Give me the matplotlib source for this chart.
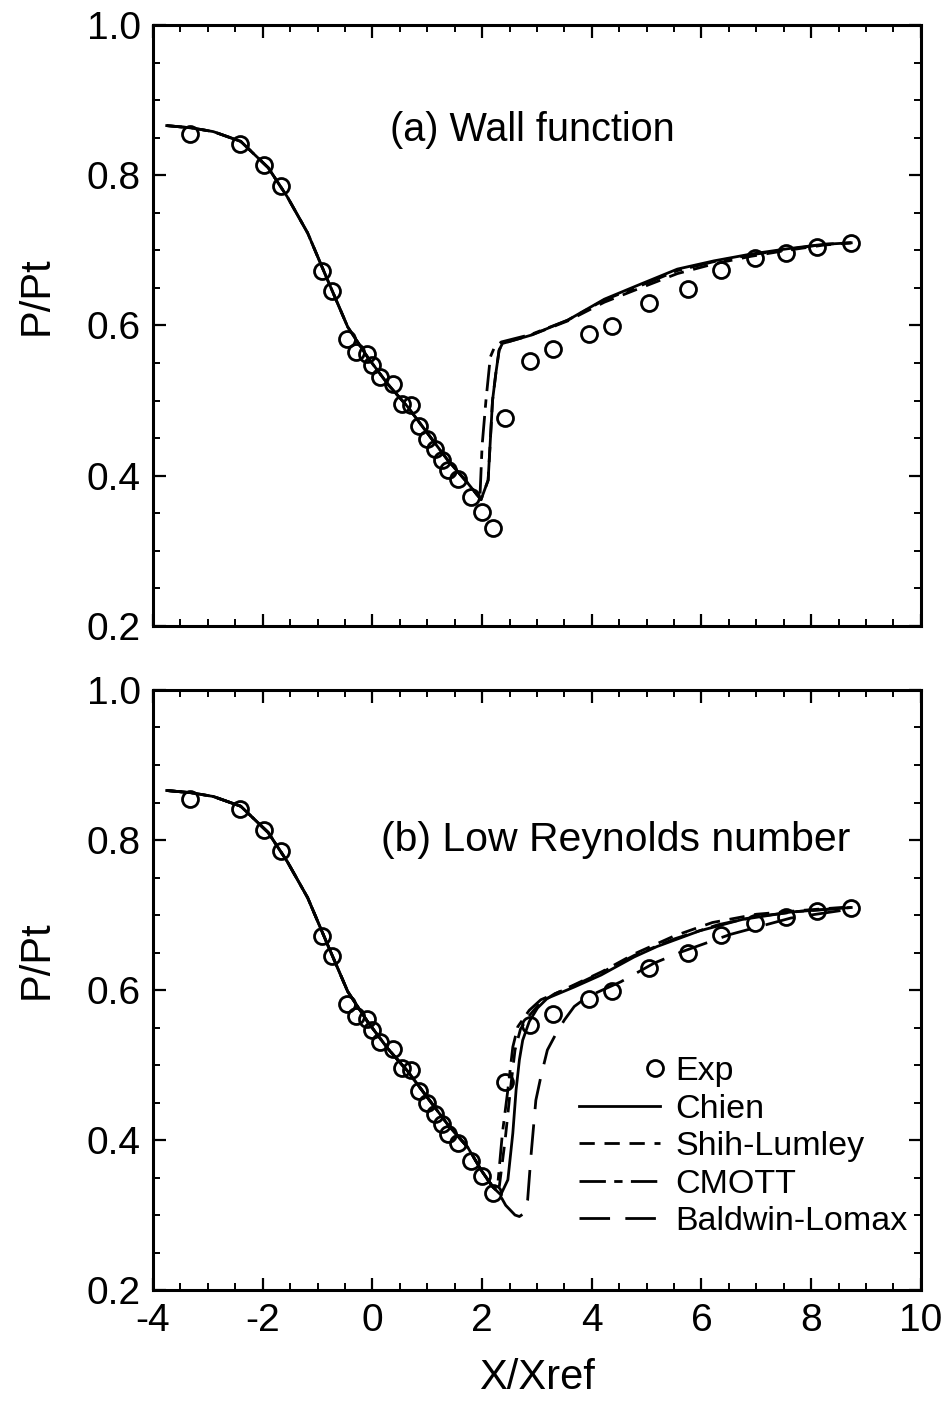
import matplotlib
matplotlib.use('Agg')
import matplotlib.pyplot as plt
from matplotlib.legend_handler import HandlerLine2D
from matplotlib.ticker import MultipleLocator, FormatStrFormatter
import numpy as np

plt.rcParams['font.family'] = ['Liberation Sans', 'DejaVu Sans']
plt.rcParams['lines.scale_dashes'] = False
plt.rcParams['axes.unicode_minus'] = False

# experimental points (same data in both panels)
exp_x = [-3.32, -2.42, -1.98, -1.66, -0.91, -0.74, -0.46, -0.30, -0.10, -0.01,
         0.14, 0.38, 0.54, 0.70, 0.85, 1.00, 1.15, 1.27, 1.38, 1.56,
         1.79, 2.00, 2.19, 2.42, 2.87, 3.29, 3.95, 4.37, 5.05, 5.75,
         6.35, 6.97, 7.54, 8.10, 8.73]
exp_y = [0.855, 0.842, 0.814, 0.785, 0.672, 0.646, 0.582, 0.565, 0.562, 0.547,
         0.531, 0.522, 0.496, 0.494, 0.466, 0.449, 0.435, 0.421, 0.408, 0.396,
         0.372, 0.352, 0.330, 0.477, 0.553, 0.568, 0.588, 0.599, 0.630, 0.649,
         0.674, 0.690, 0.697, 0.705, 0.710]

# upstream part, common to all models
x_up = [-3.75, -3.3, -2.9, -2.4, -1.9, -1.55, -1.18, -0.82, -0.45, -0.09,
        0.28, 0.64, 1.01, 1.37, 1.74]
y_up = [0.866, 0.863, 0.858, 0.845, 0.810, 0.771, 0.723, 0.661, 0.598, 0.558,
        0.522, 0.492, 0.456, 0.421, 0.390]

# (a) wall function
chien_a_x = [1.98, 2.11, 2.19, 2.25, 2.31, 2.37, 2.89, 3.56, 4.23, 4.89, 5.56, 6.23, 6.90, 7.56, 8.23, 8.73]
chien_a_y = [0.368, 0.394, 0.500, 0.536, 0.567, 0.576, 0.587, 0.607, 0.635, 0.655, 0.675, 0.686, 0.695, 0.702, 0.708, 0.710]
shih_a_x = [1.98, 2.11, 2.19, 2.25, 2.31, 2.37, 2.89, 3.56, 4.23, 4.89, 5.56, 6.23, 6.90, 7.56, 8.23, 8.73]
shih_a_y = [0.368, 0.394, 0.500, 0.536, 0.567, 0.576, 0.587, 0.606, 0.631, 0.650, 0.669, 0.682, 0.692, 0.700, 0.707, 0.710]
cmott_a_x = [1.96, 2.00, 2.07, 2.15, 2.22, 2.35, 2.89, 3.56, 4.23, 4.89, 5.56, 6.23, 6.90, 7.56, 8.23, 8.73]
cmott_a_y = [0.370, 0.440, 0.500, 0.558, 0.570, 0.578, 0.588, 0.607, 0.634, 0.653, 0.673, 0.685, 0.694, 0.701, 0.708, 0.710]

# (b) low Reynolds number
chien_b_x = [2.0, 2.2, 2.34, 2.47, 2.56, 2.62, 2.68, 2.74, 2.86, 3.01, 3.19, 3.68, 4.17, 4.77, 5.19, 5.97, 6.74, 7.63, 8.73]
chien_b_y = [0.358, 0.337, 0.327, 0.347, 0.409, 0.467, 0.507, 0.533, 0.558, 0.576, 0.589, 0.604, 0.620, 0.644, 0.658, 0.679, 0.694, 0.704, 0.710]
shih_b_x = [2.0, 2.2, 2.30, 2.42, 2.52, 2.60, 2.70, 2.86, 3.05, 3.30, 3.68, 4.20, 4.80, 5.50, 6.20, 7.00, 7.80, 8.73]
shih_b_y = [0.358, 0.337, 0.330, 0.400, 0.470, 0.520, 0.548, 0.566, 0.582, 0.594, 0.607, 0.625, 0.649, 0.672, 0.690, 0.701, 0.706, 0.711]
cmott_b_x = [2.0, 2.2, 2.28, 2.37, 2.47, 2.56, 2.65, 2.86, 3.07, 3.68, 4.17, 4.77, 5.50, 6.30, 7.00, 7.80, 8.73]
cmott_b_y = [0.358, 0.337, 0.336, 0.409, 0.467, 0.524, 0.551, 0.573, 0.587, 0.606, 0.623, 0.646, 0.668, 0.687, 0.698, 0.705, 0.710]
bl_b_x = [2.0, 2.2, 2.30, 2.43, 2.60, 2.68, 2.76, 2.83, 2.89, 2.98, 3.07, 3.19, 3.35, 3.50, 3.68, 3.92, 4.53, 5.14, 5.64, 6.52, 7.63, 8.73]
bl_b_y = [0.358, 0.337, 0.330, 0.313, 0.300, 0.298, 0.302, 0.320, 0.378, 0.453, 0.484, 0.520, 0.542, 0.560, 0.578, 0.591, 0.611, 0.636, 0.651, 0.674, 0.696, 0.708]

labels = ['Exp', 'Chien', 'Shih-Lumley', 'CMOTT', 'Baldwin-Lomax']
styles = {'Chien': '-', 'Shih-Lumley': (0, (11, 7)),
          'CMOTT': (0, (19, 6, 6, 6)), 'Baldwin-Lomax': (0, (22, 11))}


class RightMarkerHandler(HandlerLine2D):
    # single marker sits at the right end of the handle, next to the text
    def get_xdata(self, legend, xdescent, ydescent, width, height, fontsize):
        right = -xdescent + width
        xd = np.array([right - 10, right + 2])
        return xd, xd


def setup_axis(ax, show_xlabels):
    ax.set_xlim(-4, 10)
    ax.set_ylim(0.2, 1.0)
    ax.xaxis.set_major_locator(MultipleLocator(2))
    ax.xaxis.set_minor_locator(MultipleLocator(0.5))
    ax.yaxis.set_major_locator(MultipleLocator(0.2))
    ax.yaxis.set_minor_locator(MultipleLocator(0.05))
    ax.yaxis.set_major_formatter(FormatStrFormatter('%.1f'))
    ax.tick_params(which='both', direction='in', top=True, right=True,
                   labelsize=28, pad=9)
    ax.tick_params(which='major', length=9, width=1.6)
    ax.tick_params(which='minor', length=5, width=1.4)
    ax.tick_params(axis='x', labelbottom=show_xlabels)
    for sp in ax.spines.values():
        sp.set_linewidth(2.2)
    ax.set_ylabel('P/Pt', fontsize=30)
    ax.yaxis.set_label_coords(-0.125, 0.55)


def model_line(ax, xs, ys, name):
    return ax.plot(np.concatenate([x_up, xs]), np.concatenate([y_up, ys]),
                   color='black', lw=2.0, linestyle=styles[name], label=name)[0]


fig = plt.figure(figsize=(9.48, 14.01), dpi=100)
ax1 = fig.add_axes([0.1614, 0.5532, 0.810, 0.429])
ax2 = fig.add_axes([0.1614, 0.0792, 0.810, 0.4283])

# panel (a)
model_line(ax1, shih_a_x, shih_a_y, 'Shih-Lumley')
model_line(ax1, cmott_a_x, cmott_a_y, 'CMOTT')
model_line(ax1, chien_a_x, chien_a_y, 'Chien')
ax1.plot(exp_x, exp_y, 'o', mfc='none', mec='black', ms=11.5, mew=2.0)
ax1.text(2.91, 0.86, '(a) Wall function', fontsize=28.5, ha='center', va='center')
setup_axis(ax1, False)

# panel (b)
exp_line, = ax2.plot(exp_x, exp_y, 'o', mfc='none', mec='black', ms=11.5, mew=2.0,
                     label='Exp')
l_chien = model_line(ax2, chien_b_x, chien_b_y, 'Chien')
l_shih = model_line(ax2, shih_b_x, shih_b_y, 'Shih-Lumley')
l_cmott = model_line(ax2, cmott_b_x, cmott_b_y, 'CMOTT')
l_bl = model_line(ax2, bl_b_x, bl_b_y, 'Baldwin-Lomax')
ax2.text(4.44, 0.80, '(b) Low Reynolds number', fontsize=29.5, ha='center', va='center')
setup_axis(ax2, True)
ax2.set_xlabel('X/Xref', fontsize=30, labelpad=14)

ax2.legend(handles=[exp_line, l_chien, l_shih, l_cmott, l_bl], labels=labels,
           handler_map={exp_line: RightMarkerHandler()},
           loc='lower right', bbox_to_anchor=(0.983, 0.088), frameon=False,
           fontsize=24.5, handlelength=2.4, handletextpad=0.45,
           labelspacing=0.19, borderpad=0, borderaxespad=0)

fig.savefig('out.png', dpi=100)
